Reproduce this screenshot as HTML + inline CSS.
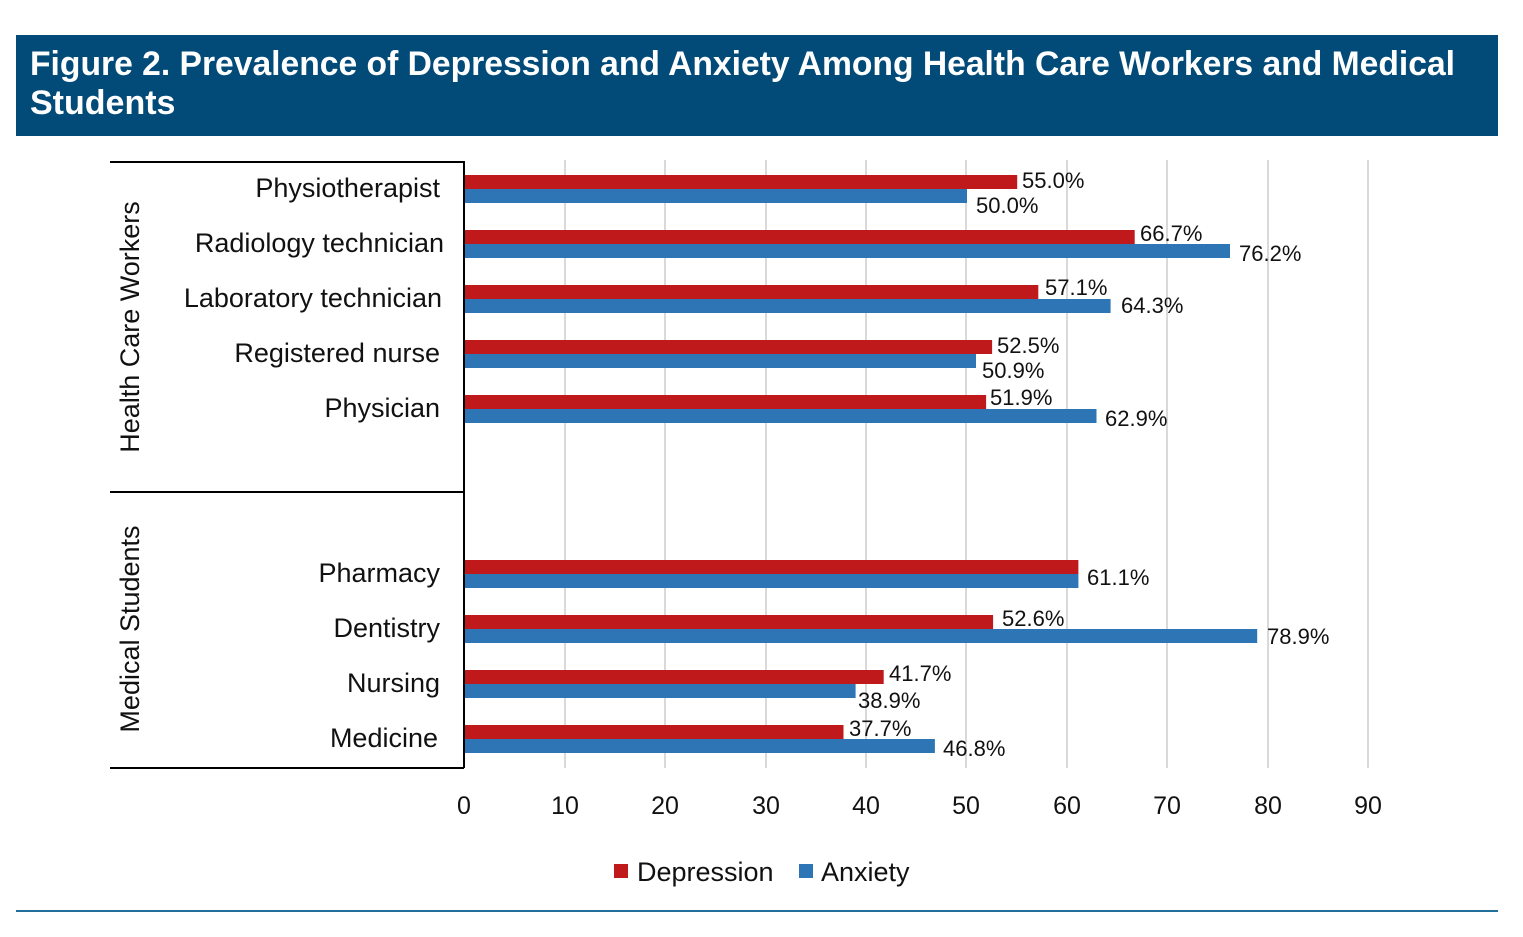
<!DOCTYPE html>
<html><head><meta charset="utf-8"><style>
body{margin:0;background:#fff;width:1523px;height:932px;overflow:hidden;font-family:"Liberation Sans",sans-serif}
</style></head><body>
<svg width="1523" height="932" xmlns="http://www.w3.org/2000/svg" font-family="Liberation Sans, sans-serif">
<rect x="16" y="35" width="1482" height="101" fill="#024a78"/>
<text x="30" y="75" fill="#fff" font-size="34" font-weight="bold" textLength="1425" lengthAdjust="spacingAndGlyphs">Figure 2. Prevalence of Depression and Anxiety Among Health Care Workers and Medical</text>
<text x="30" y="114" fill="#fff" font-size="34" font-weight="bold">Students</text>
<g stroke="#d9d9d9" stroke-width="2">
<line x1="565" y1="160" x2="565" y2="768"/><line x1="665" y1="160" x2="665" y2="768"/>
<line x1="766" y1="160" x2="766" y2="768"/><line x1="866" y1="160" x2="866" y2="768"/>
<line x1="966" y1="160" x2="966" y2="768"/><line x1="1067" y1="160" x2="1067" y2="768"/>
<line x1="1167" y1="160" x2="1167" y2="768"/><line x1="1268" y1="160" x2="1268" y2="768"/>
<line x1="1368" y1="160" x2="1368" y2="768"/>
</g>
<g stroke="#000" stroke-width="2">
<line x1="464" y1="161" x2="464" y2="768"/>
<line x1="110" y1="162" x2="464" y2="162"/>
<line x1="110" y1="492" x2="464" y2="492"/>
<line x1="110" y1="768" x2="464" y2="768"/>
</g>
<g fill="#c0191c">
<rect x="465" y="175" width="552.2" height="14"/>
<rect x="465" y="230" width="669.7" height="14"/>
<rect x="465" y="285" width="573.3" height="14"/>
<rect x="465" y="340" width="527.1" height="14"/>
<rect x="465" y="395" width="521.1" height="14"/>
<rect x="465" y="560" width="613.4" height="14"/>
<rect x="465" y="615" width="528.1" height="14"/>
<rect x="465" y="670" width="418.7" height="14"/>
<rect x="465" y="725" width="378.5" height="14"/>
</g>
<g fill="#2e75b6">
<rect x="465" y="189" width="502" height="14"/>
<rect x="465" y="244" width="765" height="14"/>
<rect x="465" y="299" width="645.6" height="14"/>
<rect x="465" y="354" width="511" height="14"/>
<rect x="465" y="409" width="631.5" height="14"/>
<rect x="465" y="574" width="613.4" height="14"/>
<rect x="465" y="629" width="792.2" height="14"/>
<rect x="465" y="684" width="390.6" height="14"/>
<rect x="465" y="739" width="469.9" height="14"/>
</g>
<g font-size="22" fill="#111">
<text x="1022" y="188">55.0%</text><text x="976" y="213">50.0%</text>
<text x="1140" y="241">66.7%</text><text x="1239" y="261">76.2%</text>
<text x="1045" y="295">57.1%</text><text x="1121" y="313">64.3%</text>
<text x="997" y="353">52.5%</text><text x="982" y="378">50.9%</text>
<text x="990" y="405">51.9%</text><text x="1105" y="426">62.9%</text>
<text x="1087" y="585">61.1%</text>
<text x="1002" y="626">52.6%</text><text x="1267" y="644">78.9%</text>
<text x="889" y="681">41.7%</text><text x="858" y="708">38.9%</text>
<text x="849" y="736">37.7%</text><text x="943" y="756">46.8%</text>
</g>
<g font-size="27" fill="#111" text-anchor="end">
<text x="440" y="197">Physiotherapist</text>
<text x="444" y="252">Radiology technician</text>
<text x="442" y="307">Laboratory technician</text>
<text x="440" y="362">Registered nurse</text>
<text x="440" y="417">Physician</text>
<text x="440" y="582">Pharmacy</text>
<text x="440" y="637">Dentistry</text>
<text x="440" y="692">Nursing</text>
<text x="438" y="747">Medicine</text>
</g>
<text transform="translate(139,327) rotate(-90)" text-anchor="middle" font-size="27" fill="#111">Health Care Workers</text>
<text transform="translate(139,629) rotate(-90)" text-anchor="middle" font-size="27" fill="#111">Medical Students</text>
<g font-size="25" fill="#111" text-anchor="middle">
<text x="464" y="814">0</text><text x="565" y="814">10</text><text x="665" y="814">20</text>
<text x="766" y="814">30</text><text x="866" y="814">40</text><text x="966" y="814">50</text>
<text x="1067" y="814">60</text><text x="1167" y="814">70</text><text x="1268" y="814">80</text>
<text x="1368" y="814">90</text>
</g>
<rect x="614" y="864" width="14" height="14" fill="#c0191c"/>
<text x="637" y="881" font-size="27" fill="#111">Depression</text>
<rect x="799" y="864" width="14" height="14" fill="#2e75b6"/>
<text x="821" y="881" font-size="27" fill="#111">Anxiety</text>
<line x1="16" y1="911" x2="1498" y2="911" stroke="#1f6f9a" stroke-width="2"/>
</svg>
</body></html>
